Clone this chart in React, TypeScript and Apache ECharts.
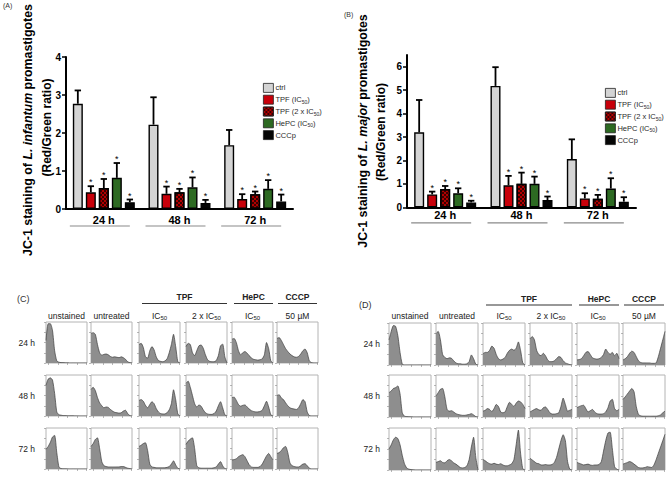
import React, { useEffect, useRef } from 'react';
import * as echarts from 'echarts';

const FONT = '"Liberation Sans", Arial, Helvetica, sans-serif';

// ---------- Bar charts (A) and (B) ----------
const timepoints = ['24 h', '48 h', '72 h'];
const seriesNames = ['ctrl', 'TPF (IC50)', 'TPF (2 x IC50)', 'HePC (IC50)', 'CCCp'];
const significant = [false, true, true, true, true];

// (A) L. infantum
const aCtrl = [2.77, 2.22, 1.68];
const aCtrlErr = [0.35, 0.72, 0.4];
const aTpf = [0.44, 0.4, 0.26];
const aTpfErr = [0.16, 0.19, 0.13];
const aTpf2 = [0.55, 0.44, 0.39];
const aTpf2Err = [0.24, 0.09, 0.07];
const aHepc = [0.82, 0.57, 0.53];
const aHepcErr = [0.39, 0.26, 0.23];
const aCccp = [0.18, 0.16, 0.2];
const aCccpErr = [0.07, 0.08, 0.18];

// (B) L. major
const bCtrl = [3.2, 5.18, 2.06];
const bCtrlErr = [1.38, 0.8, 0.84];
const bTpf = [0.55, 0.94, 0.38];
const bTpfErr = [0.12, 0.4, 0.22];
const bTpf2 = [0.78, 1.0, 0.36];
const bTpf2Err = [0.13, 0.48, 0.17];
const bHepc = [0.6, 1.0, 0.8];
const bHepcErr = [0.21, 0.31, 0.44];
const bCccp = [0.21, 0.31, 0.24];
const bCccpErr = [0.07, 0.15, 0.19];

const aTicks = [0, 1, 2, 3, 4];
const bTicks = [0, 1, 2, 3, 4, 5, 6];

// ---------- Flow cytometry histograms (C) L. infantum ----------
const cUnst24 = [55, 96, 96, 80, 30, 5, 2, 1, 1, 0.5, 0.5, 0, 0, 0, 0, 0, 0, 0, 0, 0];
const cUntr24 = [72, 74, 70, 45, 25, 19, 21, 22, 20, 16, 14, 15, 14, 13, 15, 13, 9, 3, 1, 0];
const cIc24 = [45, 48, 38, 15, 12, 30, 40, 32, 15, 6, 4, 3, 5, 10, 25, 45, 70, 40, 3, 0];
const cIc2x24 = [40, 48, 45, 25, 18, 30, 42, 44, 36, 20, 8, 4, 3, 3, 6, 18, 42, 46, 15, 0];
const cHepc24 = [58, 60, 50, 30, 20, 25, 28, 24, 18, 12, 9, 8, 7, 8, 10, 20, 50, 35, 5, 0];
const cCccp24 = [60, 62, 55, 45, 35, 28, 22, 18, 15, 14, 16, 22, 30, 34, 25, 5, 1, 0, 0, 0];

const cUnst48 = [75, 90, 93, 88, 55, 10, 3, 2, 1, 1, 0.5, 0.5, 0.5, 0.3, 0.3, 0.2, 0, 0, 0, 0];
const cUntr48 = [65, 70, 62, 45, 32, 25, 20, 22, 21, 16, 12, 9, 8, 7, 8, 12, 14, 6, 1, 0];
const cIc48 = [38, 40, 36, 26, 20, 28, 35, 30, 18, 10, 6, 5, 5, 8, 15, 30, 64, 40, 5, 0];
const cIc2x48 = [80, 85, 70, 50, 30, 22, 27, 24, 15, 8, 5, 4, 4, 6, 12, 25, 35, 20, 3, 0];
const cHepc48 = [45, 46, 38, 28, 24, 26, 27, 22, 17, 13, 11, 10, 10, 11, 14, 25, 36, 22, 3, 0];
const cCccp48 = [50, 52, 44, 40, 32, 25, 20, 18, 17, 16, 20, 30, 40, 35, 10, 1, 0, 0, 0, 0];

const cUnst72 = [48, 55, 65, 78, 82, 40, 5, 1, 0.5, 0.5, 0.3, 0, 0, 0, 0, 0, 0, 0, 0, 0];
const cUntr72 = [55, 62, 72, 76, 50, 18, 8, 6, 5, 5, 5, 5, 5, 5, 6, 6, 4, 2, 1, 0];
const cIc72 = [55, 58, 62, 64, 45, 12, 5, 4, 3, 3, 3, 3, 3, 4, 6, 12, 20, 10, 2, 0];
const cIc2x72 = [60, 68, 73, 76, 50, 8, 3, 2, 2, 2, 2, 2, 2, 3, 5, 12, 18, 8, 1, 0];
const cHepc72 = [22, 23, 25, 30, 33, 35, 30, 20, 10, 5, 4, 4, 4, 6, 12, 22, 32, 38, 30, 22];
const cCccp72 = [38, 40, 45, 52, 55, 40, 15, 8, 6, 5, 5, 8, 12, 13, 8, 2, 0, 0, 0, 0];

// ---------- (D) L. major ----------
const dUnst24 = [60, 80, 94, 92, 70, 30, 2, 0, 0, 0, 0, 0, 0, 0, 0, 0, 0, 0, 0, 0];
const dUntr24 = [75, 80, 60, 25, 18, 15, 17, 16, 10, 5, 3, 3, 2, 2, 3, 8, 24, 15, 2, 0];
const dIc24 = [27, 30, 30, 35, 45, 40, 25, 15, 12, 14, 18, 28, 35, 38, 35, 40, 55, 35, 5, 0];
const dIc2x24 = [62, 68, 60, 35, 25, 22, 28, 22, 12, 8, 8, 10, 15, 20, 18, 10, 5, 3, 1, 0];
const dHepc24 = [12, 13, 15, 22, 30, 32, 25, 17, 15, 14, 15, 18, 25, 38, 30, 26, 30, 22, 28, 15];
const dCccp24 = [12, 15, 20, 28, 33, 30, 20, 10, 6, 5, 5, 5, 5, 4, 4, 5, 20, 40, 60, 80];

const dUnst48 = [58, 62, 68, 70, 74, 55, 10, 2, 1, 0.5, 0.3, 0, 0, 0, 0, 0, 0, 0, 0, 0];
const dUntr48 = [50, 58, 66, 68, 48, 18, 14, 15, 12, 8, 6, 5, 4, 4, 5, 6, 8, 5, 1, 0];
const dIc48 = [14, 16, 20, 18, 13, 20, 30, 25, 12, 10, 12, 25, 35, 30, 25, 33, 38, 36, 30, 20];
const dIc2x48 = [12, 15, 18, 20, 17, 16, 22, 24, 18, 10, 7, 7, 8, 10, 25, 45, 30, 14, 16, 18];
const dHepc48 = [22, 25, 27, 28, 20, 12, 15, 18, 12, 8, 7, 7, 8, 12, 22, 38, 42, 20, 15, 18];
const dCccp48 = [42, 48, 55, 62, 68, 60, 25, 6, 3, 2, 2, 2, 2, 2, 2, 2, 3, 5, 10, 14];

const dUnst72 = [50, 60, 72, 78, 75, 60, 35, 15, 5, 2, 1, 0.5, 0, 0, 0, 0, 0, 0, 0, 0];
const dUntr72 = [18, 20, 22, 18, 17, 22, 25, 22, 17, 14, 10, 6, 5, 6, 10, 25, 55, 78, 30, 0];
const dIc72 = [25, 22, 18, 15, 14, 16, 14, 13, 15, 12, 10, 10, 12, 15, 25, 60, 95, 40, 3, 0];
const dIc2x72 = [28, 24, 20, 16, 15, 12, 12, 13, 12, 12, 13, 18, 30, 50, 70, 84, 70, 20, 2, 0];
const dHepc72 = [18, 16, 14, 12, 13, 14, 12, 11, 12, 12, 13, 20, 45, 70, 88, 90, 50, 8, 2, 0];
const dCccp72 = [14, 16, 18, 20, 18, 14, 10, 6, 5, 5, 6, 8, 7, 6, 12, 25, 40, 55, 70, 85];

const histColumns = ['unstained', 'untreated', 'IC{s|50}', '2 x IC{s|50}', 'IC{s|50}', '50 µM'];
const histGroups = ['TPF', 'HePC', 'CCCP'];

const cHists = [
  [cUnst24, cUntr24, cIc24, cIc2x24, cHepc24, cCccp24],
  [cUnst48, cUntr48, cIc48, cIc2x48, cHepc48, cCccp48],
  [cUnst72, cUntr72, cIc72, cIc2x72, cHepc72, cCccp72],
];
const dHists = [
  [dUnst24, dUntr24, dIc24, dIc2x24, dHepc24, dCccp24],
  [dUnst48, dUntr48, dIc48, dIc2x48, dHepc48, dCccp48],
  [dUnst72, dUntr72, dIc72, dIc2x72, dHepc72, dCccp72],
];

// ---------- styles / layout ----------
const barColors = ['#d4d4d4', '#c8000a', '#b00000', '#2d6a22', '#050505'];
const richLegendNames: Record<string, string> = {
  'ctrl': '{t|ctrl}',
  'TPF (IC50)': '{t|TPF (IC}{s|50}{t|)}',
  'TPF (2 x IC50)': '{t|TPF (2 x IC}{s|50}{t|)}',
  'HePC (IC50)': '{t|HePC (IC}{s|50}{t|)}',
  'CCCp': '{t|CCCp}',
};

const panelC = { cols: [46, 91, 139, 186, 232, 277], rows: [322, 375, 428], w: 41, h: 41, headerY: 316, groupY: 297, lineY: 303.5, rowLabelRight: 35 };
const panelD = { cols: [389, 436, 483, 530, 577, 623], rows: [323, 375, 428], w: 42, h: 42, headerY: 316, groupY: 299, lineY: 305, rowLabelRight: 380 };

function buildOption() {
  const grid: any[] = [
    { left: 66, top: 57, width: 227, height: 152 },
    { left: 407, top: 55, width: 229, height: 152.3 },
  ];
  const xAxis: any[] = [];
  const yAxis: any[] = [];
  const series: any[] = [];
  const graphic: any[] = [];

  const barX = (gi: number, margin: number) => ({
    gridIndex: gi,
    type: 'category',
    data: timepoints,
    axisLine: { lineStyle: { color: '#000', width: 2 } },
    axisTick: { show: false },
    axisLabel: { color: '#000', fontWeight: 'bold', fontSize: 11, fontFamily: FONT, margin },
  });
  const barY = (gi: number, max: number, ticks: number[]) => ({
    gridIndex: gi,
    type: 'value',
    min: 0,
    max,
    splitLine: { show: false },
    axisLine: { show: true, lineStyle: { color: '#000', width: 2 } },
    axisTick: { show: true, length: 4, lineStyle: { width: 1.5, color: '#000' }, customValues: ticks },
    axisLabel: { color: '#000', fontWeight: 'bold', fontSize: 10, fontFamily: FONT, margin: 5, customValues: ticks },
  });
  xAxis.push(barX(0, 5), barX(1, 2));
  yAxis.push(barY(0, 4, aTicks), barY(1, 6.5, bTicks));

  const addBars = (gi: number, means: number[][], errs: number[][], underlineOff: number) => {
    means.forEach((m, si) => {
      const itemStyle: any = { color: barColors[si], borderColor: '#000', borderWidth: 1.4 };
      if (si === 2) {
        itemStyle.decal = {
          symbol: 'rect',
          symbolSize: 1,
          color: 'rgba(40,0,0,0.85)',
          dashArrayX: [[1.5, 1.5], [0, 1.5, 1.5, 0]],
          dashArrayY: [1.5, 0],
        };
      }
      series.push({
        type: 'bar',
        name: seriesNames[si],
        xAxisIndex: gi,
        yAxisIndex: gi,
        barWidth: 10,
        barGap: '30%',
        data: m,
        itemStyle,
        silent: true,
        z: 2,
      });
    });
    means.forEach((m, si) => {
      series.push({
        type: 'custom',
        xAxisIndex: gi,
        yAxisIndex: gi,
        silent: true,
        z: 3,
        data: m.map((v, i) => [i, v, errs[si][i]]),
        renderItem: (_p: any, api: any) => {
          const ci = api.value(0);
          const mean = api.value(1);
          const err = api.value(2);
          const base = api.coord([ci, mean]);
          const top = api.coord([ci, mean + err]);
          const x = base[0] + (-26 + 13 * si);
          const children: any[] = [
            { type: 'line', shape: { x1: x, y1: base[1], x2: x, y2: top[1] }, style: { stroke: '#000', lineWidth: 1.8 } },
            { type: 'line', shape: { x1: x - 3.2, y1: top[1], x2: x + 3.2, y2: top[1] }, style: { stroke: '#000', lineWidth: 1.8 } },
          ];
          if (significant[si]) {
            children.push({
              type: 'text',
              x,
              y: top[1] - 8.5,
              style: { text: '*', fill: '#000', fontSize: 9, fontFamily: FONT, align: 'center', verticalAlign: 'top' },
            });
          }
          return { type: 'group', children };
        },
      });
    });
    series.push({
      type: 'custom',
      xAxisIndex: gi,
      yAxisIndex: gi,
      silent: true,
      data: timepoints.map((_t, i) => [i, 0]),
      renderItem: (_p: any, api: any) => {
        const p = api.coord([api.value(0), 0]);
        return {
          type: 'line',
          shape: { x1: p[0] - 34, y1: p[1] + underlineOff, x2: p[0] + 26, y2: p[1] + underlineOff },
          style: { stroke: '#8a8a8a', lineWidth: 1.2 },
        };
      },
    });
  };

  addBars(0, [aCtrl, aTpf, aTpf2, aHepc, aCccp], [aCtrlErr, aTpfErr, aTpf2Err, aHepcErr, aCccpErr], 17);
  addBars(1, [bCtrl, bTpf, bTpf2, bHepc, bCccp], [bCtrlErr, bTpfErr, bTpf2Err, bHepcErr, bCccpErr], 15.5);

  const legendBase = {
    orient: 'vertical',
    itemWidth: 10,
    itemHeight: 9,
    itemGap: 2,
    icon: 'rect',
    selectedMode: false,
    data: seriesNames,
    itemStyle: { borderColor: '#222', borderWidth: 0.8 },
    formatter: (name: string) => richLegendNames[name] || name,
    textStyle: {
      fontSize: 7.5,
      fontFamily: FONT,
      color: '#2a2a2a',
      lineHeight: 9,
      padding: [0, 0, 0, -3],
      rich: {
        t: { fontSize: 7.5, fontFamily: FONT, color: '#2a2a2a', lineHeight: 9 },
        s: { fontSize: 5, fontFamily: FONT, color: '#2a2a2a', verticalAlign: 'bottom', lineHeight: 6 },
      },
    },
  };
  const legend = [
    { ...legendBase, left: 258, top: 78 },
    { ...legendBase, left: 600, top: 83 },
  ];

  // axis titles
  const titleRich = (size: number) => ({
    b: { fontSize: size, fontWeight: 'bold', fontFamily: FONT, color: '#222' },
    bi: { fontSize: size, fontWeight: 'bold', fontStyle: 'italic', fontFamily: FONT, color: '#222' },
  });
  const axisTitle = (x: number, y1: number, y2: number, species: string) => [
    {
      type: 'text', x, y: y1, rotation: Math.PI / 2,
      style: { text: `{b|JC-1 staining of }{bi|${species}}{b| promastigotes}`, rich: titleRich(12.4), align: 'center', verticalAlign: 'middle' },
    },
    {
      type: 'text', x: x + 18.5, y: y2, rotation: Math.PI / 2,
      style: { text: '{b|(Red/Green ratio)}', rich: titleRich(12), align: 'center', verticalAlign: 'middle' },
    },
  ];
  graphic.push(...axisTitle(28, 130, 127.5, 'L. infantum'), ...axisTitle(362.5, 131, 132, 'L. major'));

  const panelLabel = (text: string, x: number, y: number, size: number) => ({
    type: 'text', x, y, style: { text, fontSize: size, fontFamily: FONT, fill: '#333' },
  });
  graphic.push(panelLabel('(A)', 3, 2, 7), panelLabel('(B)', 344, 11, 7), panelLabel('(C)', 17, 294, 9), panelLabel('(D)', 359, 300, 9));

  // histogram panels
  const subRich = { s: { fontSize: 6, fontFamily: FONT, fill: '#222', verticalAlign: 'bottom', lineHeight: 7 }, n: { fontSize: 8.5, fontFamily: FONT, fill: '#222' } };
  const addHistPanel = (p: typeof panelC, hists: number[][][]) => {
    hists.forEach((row, r) => {
      row.forEach((vals, c) => {
        const gi = grid.length;
        grid.push({
          left: p.cols[c], top: p.rows[r], width: p.w, height: p.h,
          show: true, borderColor: '#b4b4b4', borderWidth: 1, backgroundColor: '#fff',
        });
        xAxis.push({
          gridIndex: gi, type: 'value', min: 0, max: 19,
          axisLine: { show: false }, splitLine: { show: false }, axisLabel: { show: false },
          axisTick: { show: true, length: 2, lineStyle: { color: '#888', width: 0.6 }, customValues: [1, 5.5, 10, 14.5, 18.5] },
        });
        yAxis.push({
          gridIndex: gi, type: 'value', min: 0, max: 100, interval: 25,
          axisLine: { show: false }, splitLine: { show: false }, axisLabel: { show: false },
          axisTick: { show: true, length: 2, lineStyle: { color: '#888', width: 0.6 } },
        });
        series.push({
          type: 'line', xAxisIndex: gi, yAxisIndex: gi, silent: true,
          data: vals.map((v, i) => [i, v]),
          symbol: 'none', smooth: 0.2,
          lineStyle: { color: '#3c3c3c', width: 0.7 },
          areaStyle: { color: '#8e8e8e', opacity: 1 },
        });
      });
    });
    // column headers
    histColumns.forEach((label, c) => {
      const txt = label.includes('{s|') ? label.replace(/^([^{]*)/, '{n|$1}') : `{n|${label}}`;
      graphic.push({
        type: 'text', x: p.cols[c] + p.w / 2, y: p.headerY,
        style: { text: txt, rich: subRich, align: 'center', verticalAlign: 'middle' },
      });
    });
    // group headers
    const spans = [
      [p.cols[2] + 3, p.cols[3] + p.w],
      [p.cols[4] + 2, p.cols[4] + p.w],
      [p.cols[5] + 1, p.cols[5] + p.w - 1],
    ];
    histGroups.forEach((g, i) => {
      const [x1, x2] = spans[i];
      graphic.push({
        type: 'text', x: (x1 + x2) / 2, y: p.groupY,
        style: { text: g, fontSize: 8.5, fontWeight: 'bold', fontFamily: FONT, fill: '#222', align: 'center', verticalAlign: 'middle' },
      });
      graphic.push({ type: 'line', shape: { x1, y1: p.lineY, x2, y2: p.lineY }, style: { stroke: '#333', lineWidth: 1.2 } });
    });
    // row labels
    timepoints.forEach((t, r) => {
      graphic.push({
        type: 'text', x: p.rowLabelRight, y: p.rows[r] + p.h / 2,
        style: { text: t, fontSize: 8.5, fontFamily: FONT, fill: '#222', align: 'right', verticalAlign: 'middle' },
      });
    });
  };
  addHistPanel(panelC, cHists);
  addHistPanel(panelD, dHists);

  return {
    animation: false,
    backgroundColor: '#fff',
    textStyle: { fontFamily: FONT },
    grid,
    xAxis,
    yAxis,
    legend,
    series,
    graphic,
  };
}

export default function App() {
  const ref = useRef<HTMLDivElement>(null);
  useEffect(() => {
    if (!ref.current) return;
    const chart = echarts.init(ref.current, null, { renderer: 'svg' });
    chart.setOption(buildOption() as any);
    return () => chart.dispose();
  }, []);
  return (
    <div
      ref={ref}
      style={{ position: 'fixed', left: 0, top: 0, width: 667, height: 480, background: '#fff' }}
    />
  );
}
